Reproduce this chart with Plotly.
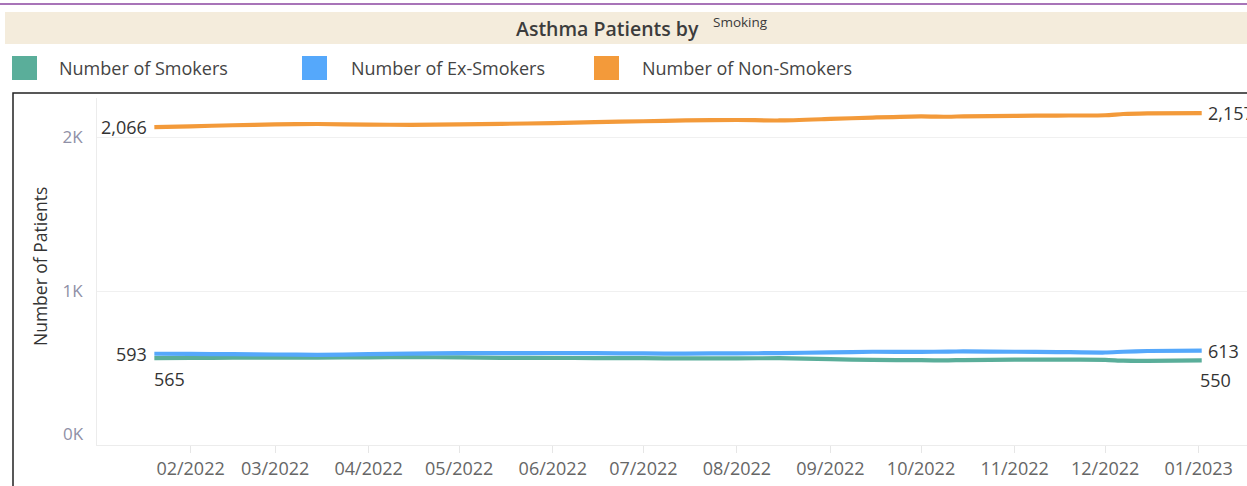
import plotly.graph_objects as go

# ---- data ----
dates = ["2022-01-20", "2022-02-01", "2022-02-15", "2022-03-01", "2022-03-15",
         "2022-04-01", "2022-04-15", "2022-05-01", "2022-05-15", "2022-06-01",
         "2022-06-15", "2022-07-01", "2022-07-15", "2022-08-01", "2022-08-15",
         "2022-09-01", "2022-09-15", "2022-10-01", "2022-10-10", "2022-10-15",
         "2022-11-01", "2022-11-15", "2022-12-01", "2022-12-07", "2022-12-15",
         "2023-01-02"]
smokers = [565, 566, 567, 567, 568, 570, 571, 569, 566, 566, 565, 564, 563,
           563, 564, 558, 553, 551, 550, 552, 555, 555, 553, 548, 547, 550]
ex_smokers = [593, 592, 590, 588, 586, 590, 594, 597, 597, 598, 597, 595, 594,
              596, 597, 602, 606, 605, 607, 608, 606, 604, 601, 606, 611, 613]
non_smokers = [2066, 2071, 2078, 2083, 2086, 2082, 2081, 2084, 2087, 2092, 2098,
               2104, 2109, 2112, 2109, 2119, 2128, 2136, 2133, 2136, 2139, 2141,
               2143, 2151, 2155, 2157]
series_names = ["Number of Smokers", "Number of Ex-Smokers", "Number of Non-Smokers"]
colors = ["#5aae9a", "#55a8fb", "#f39a3a"]
month_ticks = ["2022-02-01", "2022-03-01", "2022-04-01", "2022-05-01", "2022-06-01",
               "2022-07-01", "2022-08-01", "2022-09-01", "2022-10-01", "2022-11-01",
               "2022-12-01", "2023-01-01"]
month_labels = ["02/2022", "03/2022", "04/2022", "05/2022", "06/2022", "07/2022",
                "08/2022", "09/2022", "10/2022", "11/2022", "12/2022", "01/2023"]
y_ticks = [0, 1000, 2000]
y_labels = ["0K", "1K", "2K"]

W, H = 1247, 486
ML, MR, MT, MB = 97, 0, 98, 41
PW = W - ML - MR
PH = H - MT - MB
FONT = "Open Sans"


def px_x(p):
    return (p - ML) / PW


def px_y(p):
    return (H - MB - p) / PH


fig = go.Figure()
for name, vals, col in zip(series_names, [smokers, ex_smokers, non_smokers], colors):
    fig.add_trace(go.Scatter(x=dates, y=vals, mode="lines", name=name,
                             line=dict(color=col, width=4.2, shape="spline", smoothing=0.6),
                             showlegend=False, hoverinfo="skip"))

ann = []
shapes = []

# top purple rule
shapes.append(dict(type="line", xref="paper", yref="paper", x0=px_x(0), x1=px_x(W),
                   y0=px_y(4), y1=px_y(4), line=dict(color="#a874b8", width=2)))
# title band
shapes.append(dict(type="rect", xref="paper", yref="paper", x0=px_x(5), x1=px_x(W + 5),
                   y0=px_y(44), y1=px_y(12), fillcolor="#f4ecdc", line=dict(width=0),
                   layer="below"))
ann.append(dict(text="Asthma Patients by", xref="paper", yref="paper", x=px_x(701), y=px_y(28),
                xanchor="right", yanchor="middle", showarrow=False,
                font=dict(family=FONT, size=19.5, color="#3c3c3c", weight=600)))
ann.append(dict(text="Smoking", xref="paper", yref="paper", x=px_x(711), y=px_y(22),
                xanchor="left", yanchor="middle", showarrow=False,
                font=dict(family=FONT, size=13.5, color="#3a3a3a")))

# legend swatches
sw_x = [12, 302, 594]
tx_x = [57, 349, 640]
for sx, tx, name, col in zip(sw_x, tx_x, series_names, colors):
    shapes.append(dict(type="rect", xref="paper", yref="paper", x0=px_x(sx), x1=px_x(sx + 25),
                       y0=px_y(80), y1=px_y(56), fillcolor=col, line=dict(width=0)))
    ann.append(dict(text=name, xref="paper", yref="paper", x=px_x(tx), y=px_y(68),
                    xanchor="left", yanchor="middle", showarrow=False,
                    font=dict(family=FONT, size=18, color="#444")))

# chart border
shapes.append(dict(type="rect", xref="paper", yref="paper", x0=px_x(13), x1=px_x(W + 20),
                   y0=px_y(H + 20), y1=px_y(93), line=dict(color="#222", width=1.5)))

# axis title
ann.append(dict(text="Number of Patients", xref="paper", yref="paper", x=px_x(40), y=px_y(267),
                textangle=-90, showarrow=False, xanchor="center", yanchor="middle",
                font=dict(family=FONT, size=17.5, color="#333")))

# bottom y tick label sits above the zero line (as in the reference)
ann.append(dict(text=y_labels[0], xref="paper", yref="paper", x=px_x(86), y=px_y(433),
                xanchor="right", yanchor="middle", showarrow=False,
                font=dict(family=FONT, size=17, color="#8f90a6")))

# end labels
lab_font = dict(family=FONT, size=18, color="#333")
ann.append(dict(x=dates[0], y=non_smokers[0], text=f"{non_smokers[0]:,}", showarrow=False,
                xanchor="right", yanchor="middle", xshift=-5, font=lab_font))
ann.append(dict(x=dates[-1], y=non_smokers[-1], text=f"{non_smokers[-1]:,}", showarrow=False,
                xanchor="left", yanchor="middle", xshift=4, font=lab_font))
ann.append(dict(x=dates[0], y=ex_smokers[0], text=f"{ex_smokers[0]:,}", showarrow=False,
                xanchor="right", yanchor="middle", xshift=-5, font=lab_font))
ann.append(dict(x=dates[-1], y=ex_smokers[-1], text=f"{ex_smokers[-1]:,}", showarrow=False,
                xanchor="left", yanchor="middle", xshift=4, font=lab_font))
ann.append(dict(x=dates[0], y=smokers[0], text=f"{smokers[0]:,}", showarrow=False,
                xanchor="left", yanchor="middle", xshift=-2, yshift=-21, font=lab_font))
ann.append(dict(x=dates[-1], y=smokers[-1], text=f"{smokers[-1]:,}", showarrow=False,
                xanchor="left", yanchor="middle", xshift=-4, yshift=-20, font=lab_font))

fig.update_layout(
    width=W, height=H,
    margin=dict(l=ML, r=MR, t=MT, b=MB),
    paper_bgcolor="white", plot_bgcolor="white",
    shapes=shapes, annotations=ann,
    font=dict(family=FONT),
    hovermode=False,
    xaxis=dict(range=["2022-01-01", "2023-01-17"], tickvals=month_ticks, ticktext=month_labels,
               showgrid=False, showline=True, linecolor="#ececec", linewidth=1,
               ticks="outside", ticklen=7, tickcolor="#e6e6e6",
               tickfont=dict(family=FONT, size=18, color="#666"), zeroline=False),
    yaxis=dict(range=[0, 2255], tickvals=y_ticks, ticktext=["", y_labels[1], y_labels[2]],
               showgrid=True, gridcolor="#f0f0f0", gridwidth=1,
               showline=True, linecolor="#ececec", zeroline=False,
               ticks="", ticklabelstandoff=10,
               tickfont=dict(family=FONT, size=17, color="#8f90a6")),
)

fig.write_html("out.html", config={"displayModeBar": False},
               post_script="document.body.style.margin='0';document.body.style.overflow='hidden';")
